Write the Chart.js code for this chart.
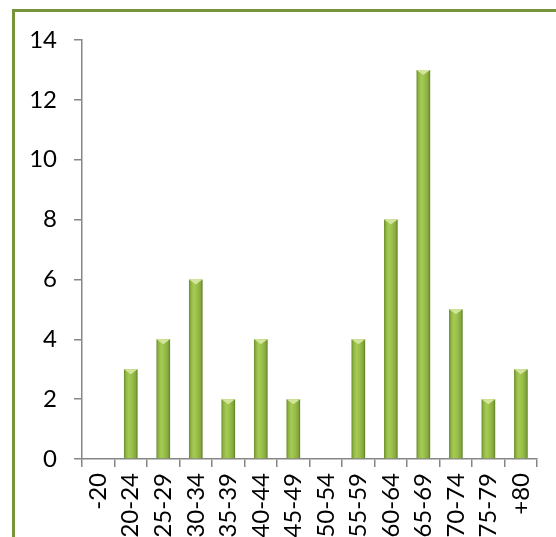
<!DOCTYPE html>
<html>
<head>
<meta charset="utf-8">
<script src="https://cdn.jsdelivr.net/npm/chart.js@4/dist/chart.umd.min.js"></script>
<style>
  html, body { margin: 0; padding: 0; background: #fff; overflow: hidden; }
  #wrap { position: relative; width: 556px; height: 537px; overflow: hidden; }
  #frame {
    position: absolute; left: 12px; top: 9px; width: 700px; height: 700px;
    border-left: 3px solid #77933c; border-top: 3px solid #77933c;
  }
  canvas { position: absolute; left: 0; top: 0; }
</style>
</head>
<body>
<div id="wrap">
  <div id="frame"></div>
  <canvas id="grafico" width="556" height="537"></canvas>
</div>
<script>
// Faixas etárias e contagens
const faixas = ['-20', '20-24', '25-29', '30-34', '35-39', '40-44', '45-49',
                '50-54', '55-59', '60-64', '65-69', '70-74', '75-79', '+80'];
const contagens = [0, 3, 4, 6, 2, 4, 2, 0, 4, 8, 13, 5, 2, 3];
const ticksY = [0, 2, 4, 6, 8, 10, 12, 14];

const LARGURA_BARRA = 0.42;

// Gradiente horizontal de cada barra (efeito cilíndrico)
function corBarra(ctx) {
    const chart = ctx.chart;
    const escala = chart.scales.x;
    if (!escala || ctx.dataIndex === undefined) return '#9bbb59';
    const x = escala.getPixelForValue(ctx.dataIndex);
    const w = (escala.width / faixas.length) * LARGURA_BARRA;
    if (!isFinite(x) || !isFinite(w) || w <= 0) return '#9bbb59';
    const g = chart.ctx.createLinearGradient(x - w / 2, 0, x + w / 2, 0);
    g.addColorStop(0, '#6b8a2c');
    g.addColorStop(0.15, '#8fb542');
    g.addColorStop(0.35, '#a6cb55');
    g.addColorStop(0.6, '#99bf4b');
    g.addColorStop(0.85, '#85a93d');
    g.addColorStop(1, '#5f7d28');
    return g;
}

// Chanfro claro no topo das barras
const chanfro = {
    id: 'chanfro',
    afterDatasetsDraw(chart) {
        const c = chart.ctx;
        const meta = chart.getDatasetMeta(0);
        meta.data.forEach((el, i) => {
            if (!contagens[i]) return;
            const w = el.width;
            c.save();
            c.fillStyle = '#d3e59b';
            c.beginPath();
            c.moveTo(el.x - w / 2, el.y);
            c.lineTo(el.x + w / 2, el.y);
            c.lineTo(el.x, el.y + 5);
            c.closePath();
            c.fill();
            c.restore();
        });
    }
};

const fonte = { family: 'Lato', size: 24 };

new Chart(document.getElementById('grafico'), {
    type: 'bar',
    data: {
        labels: faixas,
        datasets: [{
            data: contagens,
            backgroundColor: corBarra,
            borderWidth: 0,
            categoryPercentage: 1,
            barPercentage: LARGURA_BARRA
        }]
    },
    options: {
        responsive: false,
        animation: false,
        devicePixelRatio: 1,
        layout: { padding: { top: 40, right: 9, left: 0, bottom: 0 } },
        plugins: { legend: { display: false }, tooltip: { enabled: false } },
        scales: {
            x: {
                grid: { drawOnChartArea: false, drawTicks: true, tickLength: 8, color: '#868686', lineWidth: 1.5 },
                border: { color: '#868686', width: 1.5 },
                ticks: { color: '#000', font: fonte, minRotation: 90, maxRotation: 90, padding: 6, autoSkip: false },
                afterFit(scale) { scale.height = 78; }
            },
            y: {
                min: 0,
                max: 14,
                afterBuildTicks(scale) { scale.ticks = ticksY.map(v => ({ value: v })); },
                grid: { drawOnChartArea: false, drawTicks: true, tickLength: 8, color: '#868686', lineWidth: 1.5 },
                border: { color: '#868686', width: 1.5 },
                ticks: { color: '#000', font: fonte, padding: 17 },
                afterFit(scale) { scale.width = 82; }
            }
        }
    },
    plugins: [chanfro]
});
</script>
</body>
</html>
